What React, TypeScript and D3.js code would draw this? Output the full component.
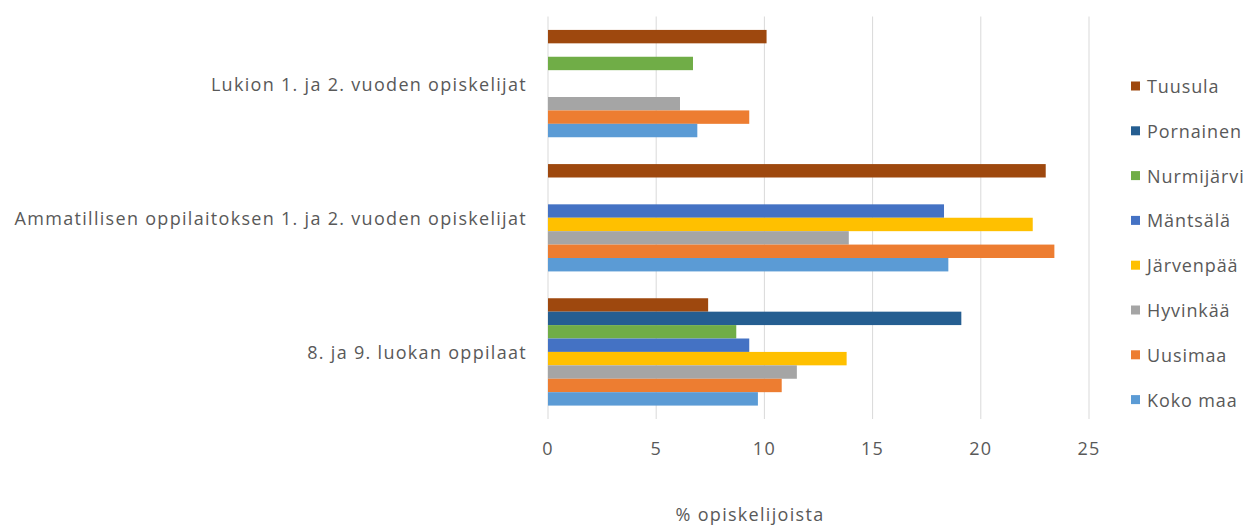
import React from "react";
import * as d3 from "d3";

const categories = [
  "Lukion 1. ja 2. vuoden opiskelijat",
  "Ammatillisen oppilaitoksen 1. ja 2. vuoden opiskelijat",
  "8. ja 9. luokan oppilaat",
];

// series listed top-to-bottom within each group (legend order)
const seriesNames = [
  "Tuusula",
  "Pornainen",
  "Nurmijärvi",
  "Mäntsälä",
  "Järvenpää",
  "Hyvinkää",
  "Uusimaa",
  "Koko maa",
];

const seriesColors = [
  "#9E480E",
  "#255E91",
  "#70AD47",
  "#4472C4",
  "#FFC000",
  "#A5A5A5",
  "#ED7D31",
  "#5B9BD5",
];

// values per series, in the order of categories (null = no bar)
const tuusula = [10.1, 23.0, 7.4];
const pornainen = [null, null, 19.1];
const nurmijarvi = [6.7, null, 8.7];
const mantsala = [null, 18.3, 9.3];
const jarvenpaa = [null, 22.4, 13.8];
const hyvinkaa = [6.1, 13.9, 11.5];
const uusimaa = [9.3, 23.4, 10.8];
const kokoMaa = [6.9, 18.5, 9.7];

const seriesValues: (number | null)[][] = [
  tuusula,
  pornainen,
  nurmijarvi,
  mantsala,
  jarvenpaa,
  hyvinkaa,
  uusimaa,
  kokoMaa,
];

const xTicks = [0, 5, 10, 15, 20, 25];
const axisTitle = "% opiskelijoista";

const W = 1253;
const H = 525;
const FONT = "'Open Sans', 'Noto Sans', 'DejaVu Sans', sans-serif";
const TEXT = "#595959";
const FS = 18;
const LS = 1.3;

export default function App() {
  const plotLeft = 548;
  const plotRight = 1089;
  const plotTop = 16.5;
  const plotBottom = 419;

  const x = d3.scaleLinear().domain([0, 25]).range([plotLeft, plotRight]);
  const y0 = d3
    .scaleBand<string>()
    .domain(categories)
    .range([plotTop, plotBottom])
    .paddingInner(0.2)
    .paddingOuter(0.1);
  const y1 = d3
    .scaleBand<string>()
    .domain(seriesNames)
    .range([0, y0.bandwidth()]);

  return (
    <svg
      width={W}
      height={H}
      style={{ position: "absolute", left: 0, top: 0, background: "#fff" }}
      fontFamily={FONT}
    >
      <rect x={0} y={0} width={W} height={H} fill="#fff" />
      {/* gridlines */}
      {xTicks.map((t) => (
        <line
          key={t}
          x1={x(t)}
          x2={x(t)}
          y1={plotTop}
          y2={plotBottom}
          stroke="#D9D9D9"
          strokeWidth={1}
        />
      ))}
      {/* bars */}
      {categories.map((c, ci) => (
        <g key={c} transform={`translate(0,${y0(c)})`}>
          {seriesNames.map((s, si) => {
            const v = seriesValues[si][ci];
            if (v == null) return null;
            return (
              <rect
                key={s}
                x={x(0)}
                y={y1(s)}
                width={x(v) - x(0)}
                height={y1.bandwidth()}
                fill={seriesColors[si]}
              />
            );
          })}
        </g>
      ))}
      {/* category labels */}
      {categories.map((c) => (
        <text
          key={c}
          x={527}
          y={(y0(c) as number) + y0.bandwidth() / 2}
          textAnchor="end"
          dominantBaseline="central"
          fontSize={FS}
          letterSpacing={LS}
          fill={TEXT}
        >
          {c}
        </text>
      ))}
      {/* tick labels */}
      {xTicks.map((t) => (
        <text
          key={t}
          x={x(t)}
          y={448}
          textAnchor="middle"
          dominantBaseline="central"
          fontSize={FS}
          letterSpacing={LS}
          fill={TEXT}
        >
          {t}
        </text>
      ))}
      {/* axis title */}
      <text
        x={750}
        y={514}
        textAnchor="middle"
        dominantBaseline="central"
        fontSize={FS}
        letterSpacing={LS}
        fill={TEXT}
      >
        {axisTitle}
      </text>
      {/* legend */}
      {seriesNames.map((s, i) => (
        <g key={s} transform={`translate(1131,${86 + i * 44.8})`}>
          <rect x={0} y={-4.5} width={9} height={9} fill={seriesColors[i]} />
          <text
            x={16}
            y={0}
            dominantBaseline="central"
            fontSize={FS}
            letterSpacing={0.9}
            fill={TEXT}
          >
            {s}
          </text>
        </g>
      ))}
    </svg>
  );
}
